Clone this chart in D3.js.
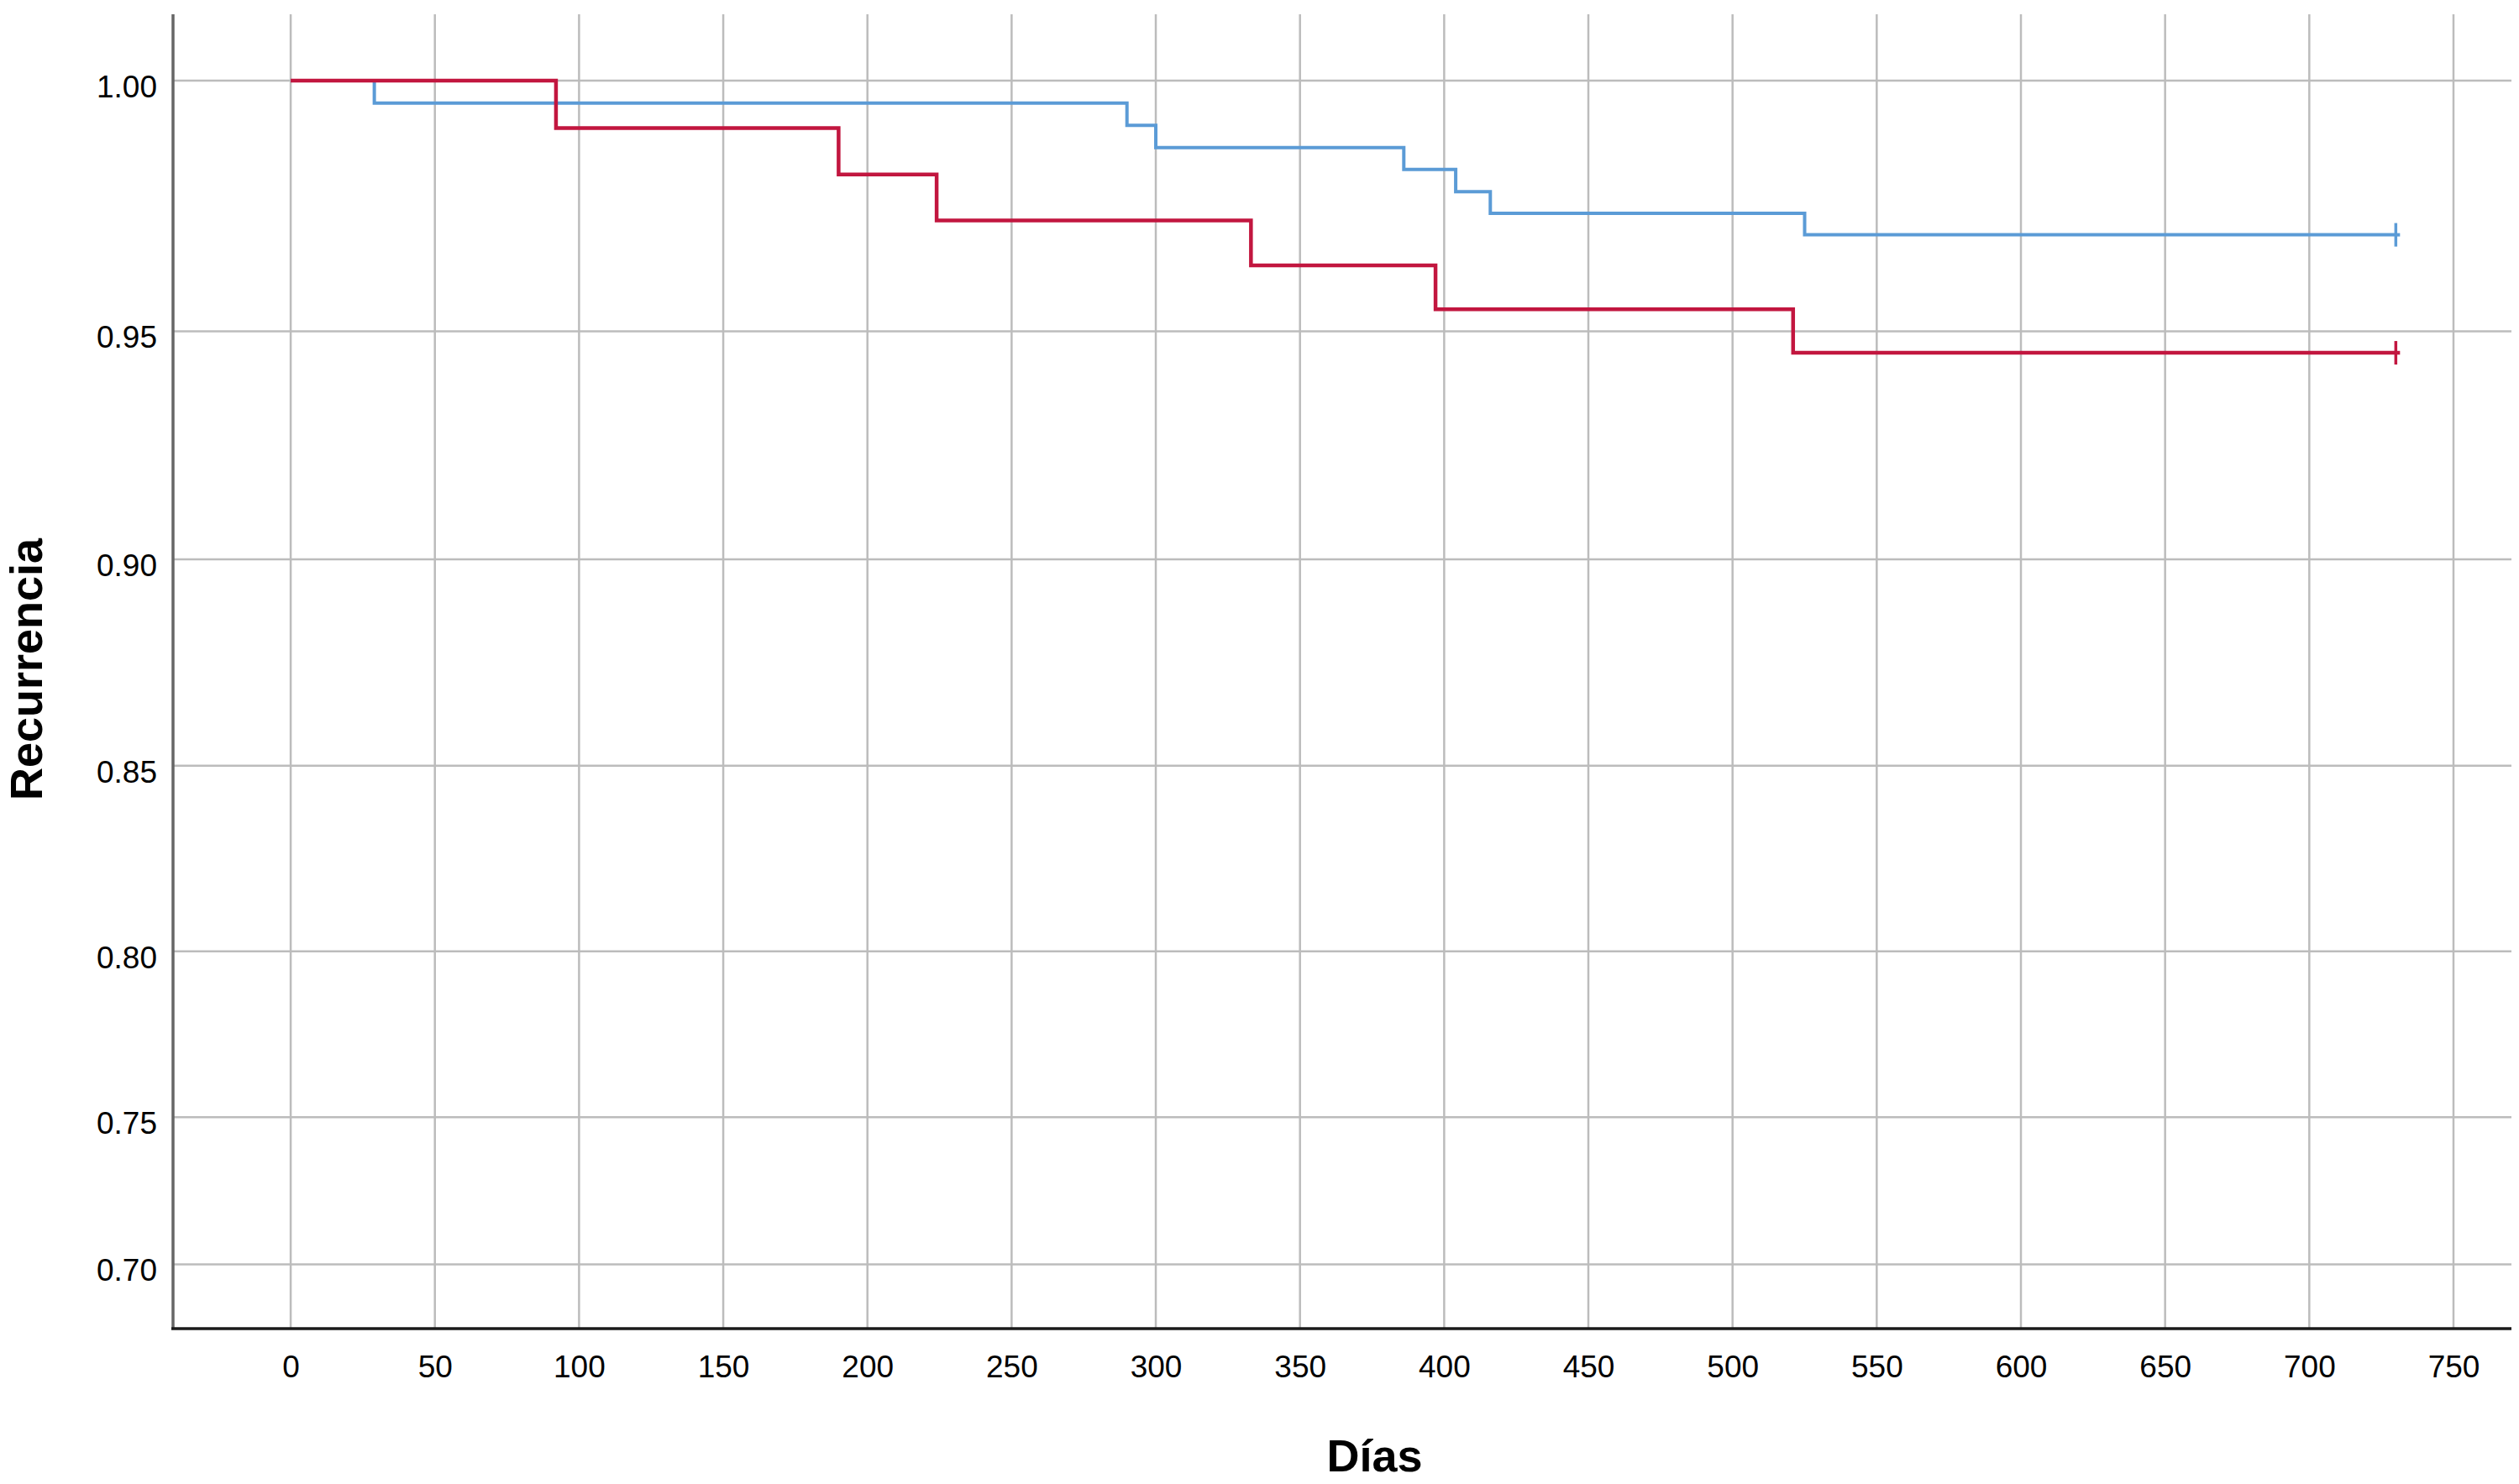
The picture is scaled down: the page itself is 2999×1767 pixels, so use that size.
<!DOCTYPE html>
<html>
<head>
<meta charset="utf-8">
<script src="https://cdn.jsdelivr.net/npm/d3@7"></script>
<style>
  html, body { margin: 0; padding: 0; background: #fff; }
  svg { display: block; font-family: "Liberation Sans", Arial, sans-serif; }
</style>
</head>
<body>
<svg id="chart" width="2999" height="1767"></svg>
<script>
// ---- Data ----
const xTicks = [0, 50, 100, 150, 200, 250, 300, 350, 400, 450, 500, 550, 600, 650, 700, 750];
const yTicks = [0.70, 0.75, 0.80, 0.85, 0.90, 0.95, 1.00];

// Red series: event days and survival after each event
const redDays = [0, 92, 190, 224, 333, 397, 521, 730];
const redSurv = [1.0000, 0.9909, 0.9818, 0.9727, 0.9636, 0.9546, 0.9455, 0.9455];
const redCensor = [730];

// Blue series
const blueDays = [0, 29, 290, 300, 386, 404, 416, 525, 730];
const blueSurv = [1.0000, 0.9957, 0.9914, 0.9871, 0.9828, 0.9784, 0.9741, 0.9698, 0.9698];
const blueCensor = [730];

const xTitle = "Días";
const yTitle = "Recurrencia";

// ---- Layout ----
const svg = d3.select("#chart");
const plotLeft = 206, plotRight = 2990, plotTop = 17, plotBottom = 1582;

const x = d3.scaleLinear().domain([-40.8, 770.1]).range([plotLeft, plotRight]);
const y = d3.scalePow().exponent(2.8).domain([0.676, 1.0125]).range([plotBottom, plotTop]);

const gridColor = "#bcbcbc";

// Vertical gridlines
svg.append("g").selectAll("line").data(xTicks).join("line")
  .attr("x1", d => x(d)).attr("x2", d => x(d))
  .attr("y1", plotTop).attr("y2", plotBottom)
  .attr("stroke", gridColor).attr("stroke-width", 2.5);

// Horizontal gridlines
svg.append("g").selectAll("line").data(yTicks).join("line")
  .attr("x1", plotLeft).attr("x2", plotRight)
  .attr("y1", d => y(d)).attr("y2", d => y(d))
  .attr("stroke", gridColor).attr("stroke-width", 2.5);

// Axes via d3 axis generators (labels only, no tick marks)
const xAxis = svg.append("g").attr("transform", `translate(0,${plotBottom})`)
  .call(d3.axisBottom(x).tickValues(xTicks).tickSize(0).tickPadding(0).tickFormat(d3.format("d")));
xAxis.select(".domain").remove();
xAxis.selectAll("text")
  .attr("y", 58).attr("dy", 0)
  .attr("font-size", 37).attr("fill", "#000")
  .attr("font-family", "Liberation Sans, Arial, sans-serif");

const yAxis = svg.append("g").attr("transform", `translate(${plotLeft},0)`)
  .call(d3.axisLeft(y).tickValues(yTicks).tickSize(0).tickPadding(0).tickFormat(d3.format(".2f")));
yAxis.select(".domain").remove();
yAxis.selectAll("text")
  .attr("x", -19).attr("dy", "0.52em")
  .attr("font-size", 37).attr("fill", "#000")
  .attr("font-family", "Liberation Sans, Arial, sans-serif");

// Axis lines
svg.append("line").attr("x1", plotLeft).attr("x2", plotLeft).attr("y1", plotTop).attr("y2", plotBottom)
  .attr("stroke", "#666").attr("stroke-width", 3.5);
svg.append("line").attr("x1", plotLeft - 2).attr("x2", plotRight).attr("y1", plotBottom).attr("y2", plotBottom)
  .attr("stroke", "#1a1a1a").attr("stroke-width", 3.5);

// Survival curves
const line = d3.line().curve(d3.curveStepAfter).x(d => x(d[0])).y(d => y(d[1]));

function drawSeries(days, surv, censor, color, width) {
  const pts = days.map((d, i) => [d, surv[i]]);
  svg.append("path").datum(pts)
    .attr("d", line)
    .attr("fill", "none").attr("stroke", color)
    .attr("stroke-width", width).attr("stroke-linejoin", "miter");
  const last = surv[surv.length - 1];
  svg.append("g").selectAll("line").data(censor).join("line")
    .attr("x1", d => x(d)).attr("x2", d => x(d))
    .attr("y1", () => y(last) - 14).attr("y2", () => y(last) + 14)
    .attr("stroke", color).attr("stroke-width", 3.5);
  svg.append("g").selectAll("line").data(censor).join("line")
    .attr("x1", d => x(d)).attr("x2", d => x(d) + 5)
    .attr("y1", () => y(last)).attr("y2", () => y(last))
    .attr("stroke", color).attr("stroke-width", width);
}

drawSeries(blueDays, blueSurv, blueCensor, "#5b9bd6", 4);
drawSeries(redDays, redSurv, redCensor, "#c2163f", 4.5);

// Titles
svg.append("text")
  .attr("x", x(0) + (x(750) - x(0)) / 2 + 3).attr("y", 1752)
  .attr("text-anchor", "middle")
  .attr("font-size", 54).attr("font-weight", "bold").attr("fill", "#000")
  .text(xTitle);

svg.append("text")
  .attr("transform", "translate(50,797) rotate(-90)")
  .attr("text-anchor", "middle")
  .attr("font-size", 54).attr("font-weight", "bold").attr("fill", "#000")
  .text(yTitle);
</script>
</body>
</html>
